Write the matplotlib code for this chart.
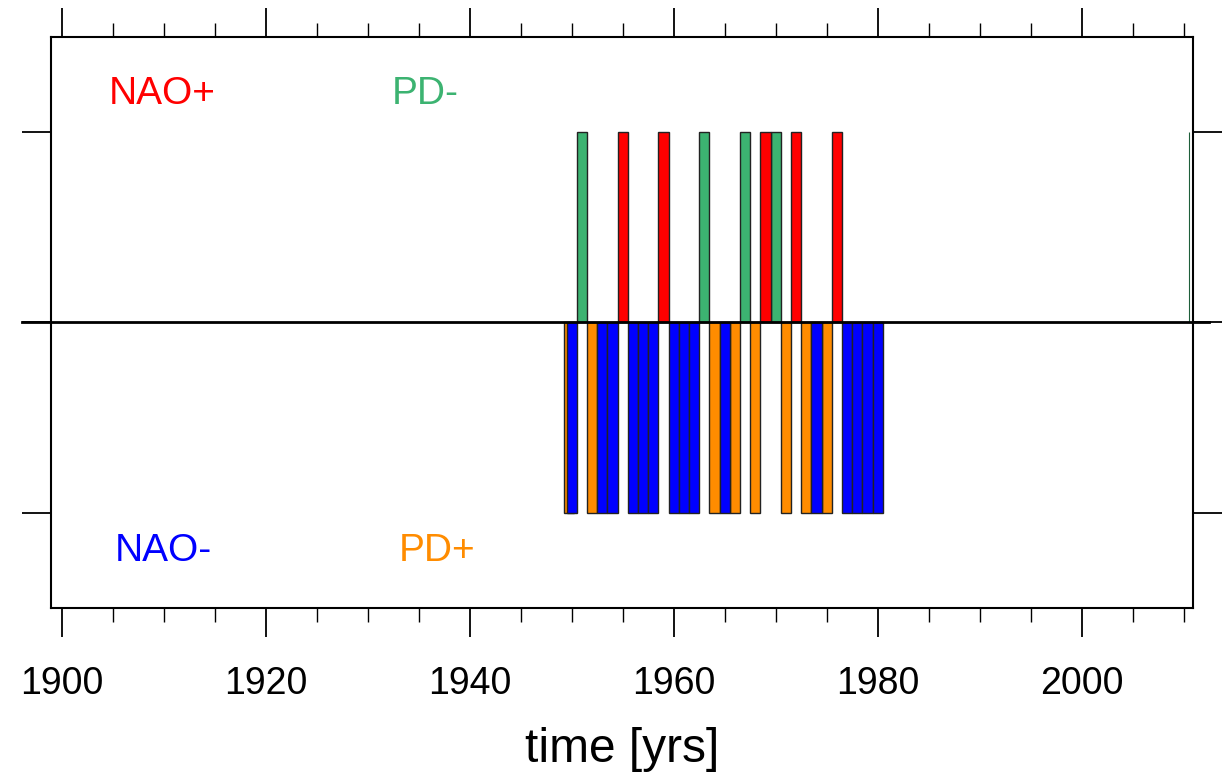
import numpy as np
import matplotlib
matplotlib.use('Agg')
import matplotlib.pyplot as plt
from matplotlib.ticker import MultipleLocator

plt.rcParams['font.family'] = ['Liberation Sans', 'DejaVu Sans']

# event years (one bar per year)
nao_pos = [1955, 1959, 1969, 1972, 1976]          # NAO+  (up, red)
pd_neg = [1951, 1963, 1967, 1970]                 # PD-   (up, green)
pd_neg_edge = [2010.5]                            # PD-   clipped bar at the right edge
nao_neg = [1950, 1953, 1954, 1956, 1957, 1958, 1960, 1961, 1962,
           1965, 1974, 1977, 1978, 1979, 1980]    # NAO-  (down, blue)
pd_pos = [1949.75, 1952, 1964, 1966, 1968, 1971, 1973, 1975]  # PD+ (down, orange)

xticks = [1900, 1920, 1940, 1960, 1980, 2000]

labels = ['NAO+', 'PD-', 'NAO-', 'PD+']
label_x = [1909.8, 1935.6, 1910.0, 1936.8]
label_y = [1.2, 1.2, -1.2, -1.2]
label_col = ['red', 'mediumseagreen', 'blue', 'darkorange']

fig = plt.figure(figsize=(12.27, 7.73), dpi=100)
ax = fig.add_axes([0.0416, 0.2135, 0.9309, 0.7386])

bar_kw = dict(width=1.0, edgecolor='#222222', linewidth=1.0, zorder=2)
ax.bar(pd_pos, -np.ones(len(pd_pos)), color='darkorange', **bar_kw)
ax.bar(nao_neg, -np.ones(len(nao_neg)), color='blue', **bar_kw)
ax.bar(pd_neg, np.ones(len(pd_neg)), color='mediumseagreen', **bar_kw)
ax.bar(nao_pos, np.ones(len(nao_pos)), color='red', **bar_kw)
ax.vlines(pd_neg_edge, 0, 1, color='#1f5f3a', linewidth=0.8, zorder=2)

# zero line, running slightly past the frame
ax.plot([1896.1, 2012.5], [0, 0], color='black', linewidth=2.0, clip_on=False, zorder=3)

for t, x, y, c in zip(labels, label_x, label_y, label_col):
    ax.text(x, y, t, color=c, fontsize=28, ha='center', va='center')

ax.set_xlim(1898.95, 2010.94)
ax.set_ylim(-1.5, 1.5)

ax.set_xticks(xticks)
ax.xaxis.set_minor_locator(MultipleLocator(5))
ax.set_yticks([-1, 0, 1])
ax.set_yticklabels([])
ax.tick_params(axis='both', which='major', direction='out', length=21, width=1.3,
               top=True, right=True, labelsize=27, pad=20.5)
ax.tick_params(axis='x', which='minor', direction='out', length=10, width=1.0, top=True)
for s in ax.spines.values():
    s.set_linewidth(1.5)

ax.set_xlabel('time [yrs]', fontsize=34.5, labelpad=18)

fig.savefig('out.png', dpi=100)
